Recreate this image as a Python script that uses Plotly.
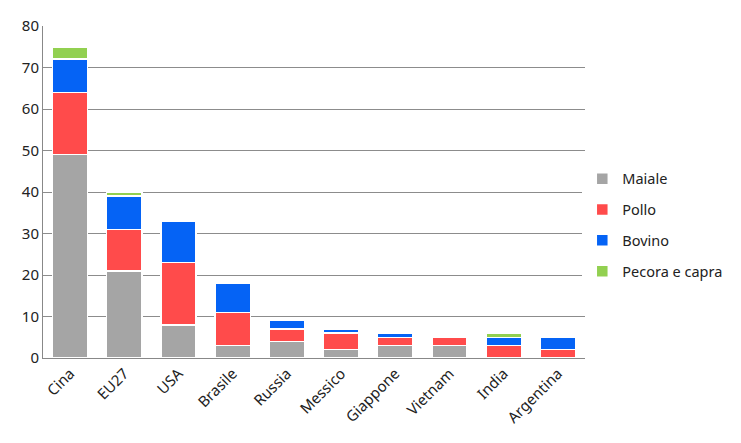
import plotly.graph_objects as go

countries = ["Cina", "EU27", "USA", "Brasile", "Russia", "Messico", "Giappone", "Vietnam", "India", "Argentina"]
maiale = [49, 21, 8, 3, 4, 2, 3, 3, 0, 0]
pollo = [15, 10, 15, 8, 3, 4, 2, 2, 3, 2]
bovino = [8, 8, 10, 7, 2, 1, 1, 0, 2, 3]
pecora = [3, 1, 0, 0, 0, 0, 0, 0, 1, 0]
y_ticks = [0, 10, 20, 30, 40, 50, 60, 70, 80]

series = [
    ("Maiale", maiale, "#A5A5A5"),
    ("Pollo", pollo, "#FF4B4B"),
    ("Bovino", bovino, "#0563F5"),
    ("Pecora e capra", pecora, "#92D050"),
]

fig = go.Figure()
for name, vals, color in series:
    fig.add_trace(go.Bar(
        x=countries, y=vals, name=name, legendgroup=name,
        marker=dict(color=color, line=dict(color="white", width=1.5)),
    ))

font = "Noto Sans, Open Sans, sans-serif"
fig.update_layout(
    barmode="stack",
    bargap=0.35,
    width=741, height=443,
    margin=dict(l=43, r=156, t=26, b=85),
    paper_bgcolor="white", plot_bgcolor="white",
    font=dict(family=font, size=15, color="#222"),
    legend=dict(x=0.995, xanchor="left", y=0.4, yanchor="middle",
                traceorder="grouped", tracegroupgap=9, itemwidth=30,
                font=dict(size=14.5, color="#222")),
    xaxis=dict(tickangle=-45, showline=True, linecolor="#888", linewidth=1,
               ticks="", tickfont=dict(size=15)),
    yaxis=dict(range=[0, 80], tickvals=y_ticks, showgrid=True, gridcolor="#8C8C8C",
               gridwidth=1, showline=True, linecolor="#888", linewidth=1,
               ticks="", ticklen=0, tickfont=dict(size=15), zeroline=False),
)
fig.write_html("out.html", config={"displayModeBar": False},
               post_script="document.body.style.margin='0';")
